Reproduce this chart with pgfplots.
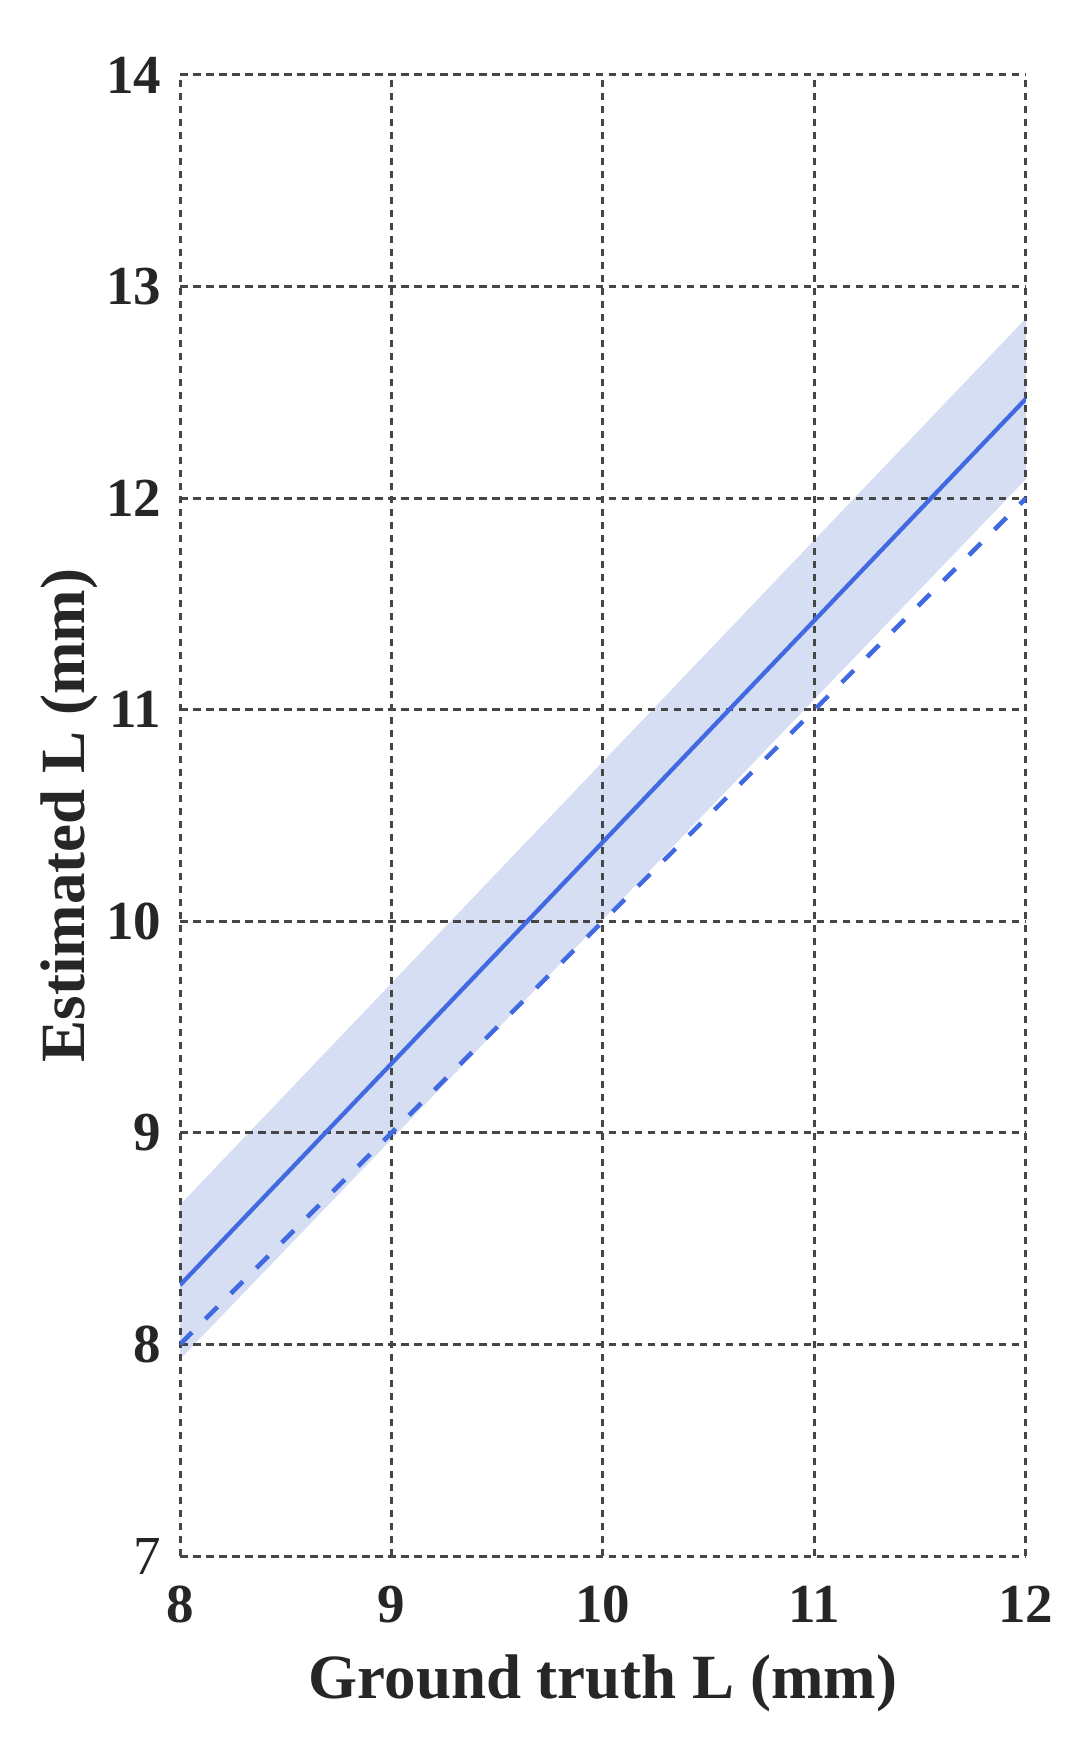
\documentclass[border=0pt]{standalone}
\usepackage{pgfplots}
\pgfplotsset{compat=1.18}
\usepackage{fontspec}
\setmainfont{Liberation Serif}
\definecolor{lineblue}{RGB}{65,105,225}
\definecolor{bandfill}{RGB}{214,222,244}
\definecolor{gridgray}{RGB}{70,70,70}

\begin{document}
\begin{tikzpicture}
\begin{axis}[
  set layers=standard,
  scale only axis,
  width=169.2bp,
  height=296.2bp,
  xmin=8, xmax=12,
  ymin=7, ymax=14,
  xtick={8,9,10,11,12},
  ytick={7,8,9,10,11,12,13,14},
  xticklabels={8,9,10,11,12},
  yticklabels={{\mdseries 7},8,9,10,11,12,13,14},
  grid=major,
  major grid style={gridgray, line width=0.6bp, dash pattern=on 1.5bp off 1.1bp},
  axis line style={draw=none},
  major tick length=0pt,
  tick style={draw=none},
  ticklabel style={font=\fontsize{11bp}{13bp}\selectfont\bfseries, text=black!85},
  xticklabel style={anchor=north, inner sep=0pt, yshift=-5.8bp},
  yticklabel style={anchor=east, inner sep=0pt, xshift=-3.6bp},
  label style={font=\fontsize{12.6bp}{15bp}\selectfont\bfseries, text=black!85},
  xlabel={Ground truth L (mm)},
  ylabel={Estimated L (mm)},
  xlabel style={at={(axis description cs:0.5,-0.0959)}, anchor=base, inner sep=0pt},
  ylabel style={at={(axis description cs:-0.131,0.5)}, anchor=center, inner sep=0pt},
]
% confidence band
\addplot[on layer=axis background, draw=none, fill=bandfill] coordinates {
  (8,7.93) (12,12.09) (12,12.85) (8,8.66)
} -- cycle;
% identity line
\addplot[lineblue, line width=0.9bp, dash pattern=on 3.4bp off 3.8bp] coordinates {
  (8,8) (12,12)
};
% mean estimate
\addplot[lineblue, line width=0.85bp] coordinates {
  (8,8.28) (12,12.47)
};
\coordinate (sw) at (rel axis cs:0,0);
\end{axis}
\pgfresetboundingbox
\path (sw) ++(-36bp,-37.6bp) rectangle ++(216.8bp,348.8bp);
\end{tikzpicture}
\end{document}
